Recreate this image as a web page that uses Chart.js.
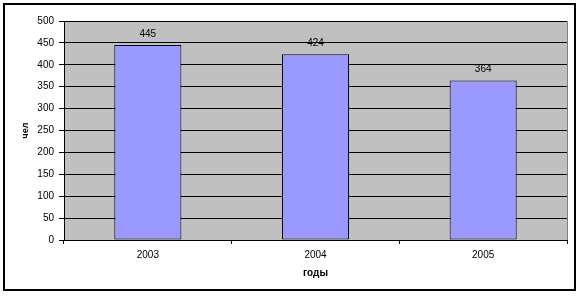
<!DOCTYPE html>
<html>
<head>
<meta charset="utf-8">
<script src="https://cdn.jsdelivr.net/npm/chart.js@4.4.1/dist/chart.umd.min.js"></script>
<style>
  html, body { margin: 0; padding: 0; background: #fff; }
  canvas { display: block; }
</style>
</head>
<body>
<canvas id="grafico" width="581" height="296"></canvas>
<script>
const anos = ["2003", "2004", "2005"];
const pessoas = [445, 424, 364];
const tituloX = "годы";
const tituloY = "чел";

// moldura externa, fundo cinza da área do gráfico e rótulos sobre as barras
const moldura = {
  id: "moldura",
  beforeDraw(chart) {
    const { ctx, chartArea: a } = chart;
    ctx.save();
    ctx.fillStyle = "#C0C0C0";
    ctx.fillRect(a.left, a.top, a.right - a.left, a.bottom - a.top);
    ctx.strokeStyle = "#808080";
    ctx.lineWidth = 1;
    ctx.beginPath();
    ctx.moveTo(a.left, a.top + 0.5);
    ctx.lineTo(a.right + 0.5, a.top + 0.5);
    ctx.lineTo(a.right + 0.5, a.bottom);
    ctx.stroke();
    ctx.strokeStyle = "#000";
    ctx.lineWidth = 2;
    ctx.strokeRect(4, 4, 571, 286);
    ctx.restore();
  },
  afterDatasetsDraw(chart) {
    const { ctx } = chart;
    const meta = chart.getDatasetMeta(0);
    ctx.save();
    ctx.font = "10px 'Liberation Sans', Arial, sans-serif";
    ctx.fillStyle = "#000";
    ctx.textAlign = "center";
    ctx.textBaseline = "middle";
    meta.data.forEach((bar, i) => {
      ctx.fillText(String(pessoas[i]), bar.x, bar.y - 11);
    });
    ctx.restore();
  }
};

const fonte = { family: "'Liberation Sans', Arial, sans-serif", size: 10 };

new Chart(document.getElementById("grafico").getContext("2d"), {
  type: "bar",
  data: {
    labels: anos,
    datasets: [{
      data: pessoas,
      backgroundColor: "#9999FF",
      borderColor: "#000",
      borderWidth: 1,
      borderSkipped: false,
      barPercentage: 0.4,
      categoryPercentage: 1
    }]
  },
  options: {
    responsive: false,
    animation: false,
    layout: { padding: { left: 0, top: 21, right: 14, bottom: 0 } },
    plugins: {
      legend: { display: false },
      tooltip: { enabled: false }
    },
    scales: {
      x: {
        afterFit: s => { s.height = 56; },
        grid: { offset: true, drawOnChartArea: false, color: "#000", tickLength: 4 },
        border: { color: "#000", width: 1 },
        ticks: { color: "#000", font: fonte, padding: 5 },
        title: {
          display: true, text: tituloX, color: "#000",
          font: { family: fonte.family, size: 10, weight: "bold" },
          padding: { top: 0, bottom: 17 }
        }
      },
      y: {
        min: 0, max: 500,
        afterFit: s => { s.width = 64; },
        grid: { color: "#000", tickLength: 5 },
        border: { color: "#000", width: 1 },
        ticks: { stepSize: 50, color: "#000", font: fonte, padding: 5 },
        title: {
          display: true, text: tituloY, color: "#000",
          font: { family: fonte.family, size: 9, weight: "bold" },
          padding: { top: 20, bottom: 0 }
        }
      }
    }
  },
  plugins: [moldura]
});
</script>
</body>
</html>
